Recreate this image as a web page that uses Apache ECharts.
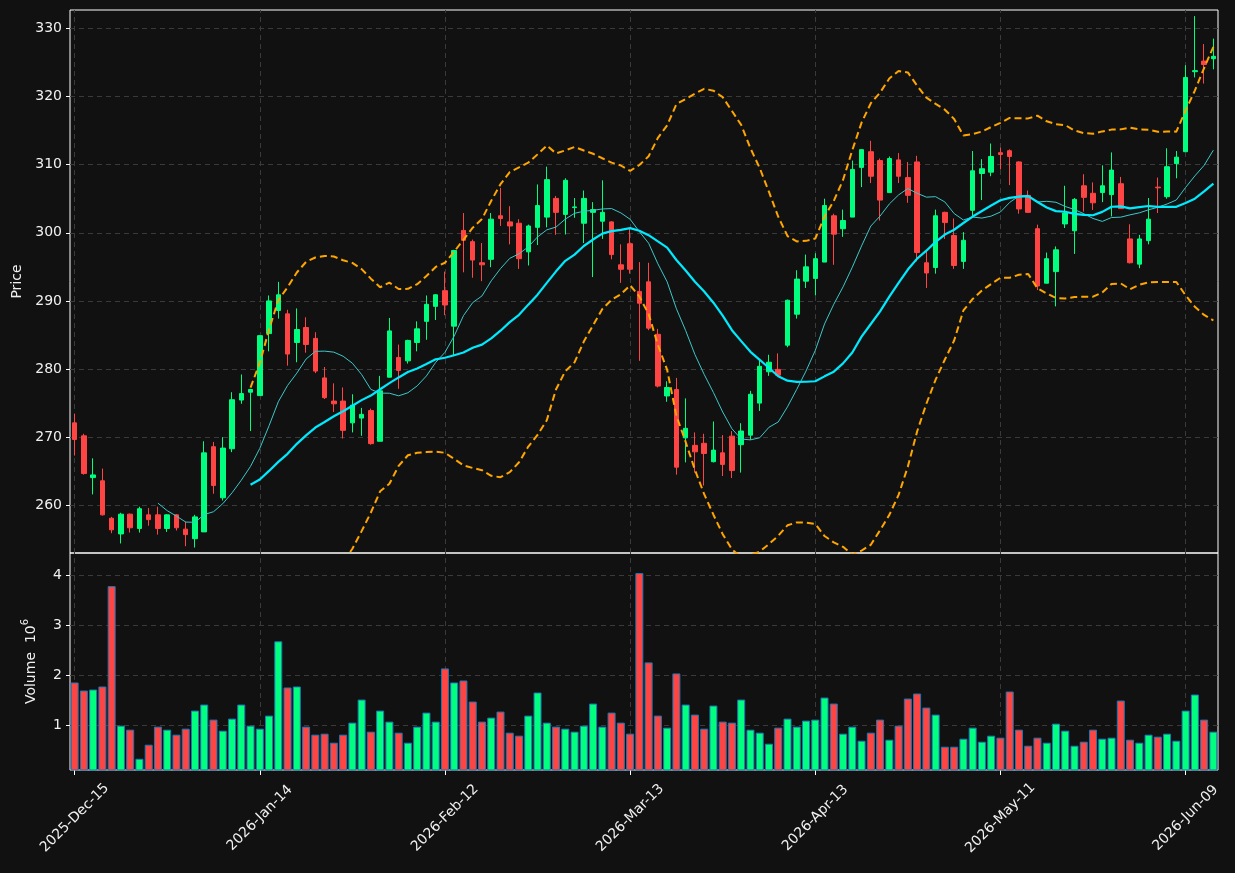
<!DOCTYPE html>
<html>
<head>
<meta charset="utf-8">
<script src="https://cdn.jsdelivr.net/npm/echarts@6.0.0/dist/echarts.min.js"></script>
<style>
  html, body { margin: 0; padding: 0; background: #111111; }
  #main { width: 1235px; height: 873px; }
</style>
</head>
<body>
<div id="main"></div>
<script>
// trading days (categories)
var dates = [
  '2025-12-15','2025-12-16','2025-12-17','2025-12-18','2025-12-19','2025-12-22','2025-12-23','2025-12-24','2025-12-26','2025-12-29','2025-12-30','2025-12-31',
  '2026-01-02','2026-01-05','2026-01-06','2026-01-07','2026-01-08','2026-01-09','2026-01-12','2026-01-13','2026-01-14','2026-01-15','2026-01-16',
  '2026-01-20','2026-01-21','2026-01-22','2026-01-23','2026-01-26','2026-01-27','2026-01-28','2026-01-29','2026-01-30',
  '2026-02-02','2026-02-03','2026-02-04','2026-02-05','2026-02-06','2026-02-09','2026-02-10','2026-02-11','2026-02-12','2026-02-13',
  '2026-02-17','2026-02-18','2026-02-19','2026-02-20','2026-02-23','2026-02-24','2026-02-25','2026-02-26','2026-02-27',
  '2026-03-02','2026-03-03','2026-03-04','2026-03-05','2026-03-06','2026-03-09','2026-03-10','2026-03-11','2026-03-12','2026-03-13',
  '2026-03-16','2026-03-17','2026-03-18','2026-03-19','2026-03-20','2026-03-23','2026-03-24','2026-03-25','2026-03-26','2026-03-27','2026-03-30','2026-03-31',
  '2026-04-01','2026-04-02','2026-04-06','2026-04-07','2026-04-08','2026-04-09','2026-04-10','2026-04-13','2026-04-14','2026-04-15','2026-04-16','2026-04-17',
  '2026-04-20','2026-04-21','2026-04-22','2026-04-23','2026-04-24','2026-04-27','2026-04-28','2026-04-29','2026-04-30',
  '2026-05-01','2026-05-04','2026-05-05','2026-05-06','2026-05-07','2026-05-08','2026-05-11','2026-05-12','2026-05-13','2026-05-14','2026-05-15',
  '2026-05-18','2026-05-19','2026-05-20','2026-05-21','2026-05-22','2026-05-26','2026-05-27','2026-05-28','2026-05-29',
  '2026-06-01','2026-06-02','2026-06-03','2026-06-04','2026-06-05','2026-06-08','2026-06-09','2026-06-10','2026-06-11','2026-06-12'
];

var opens = [
  272.1, 270.2, 264.07, 263.6, 258.1, 255.8, 258.7, 256.6, 258.6, 258.6,
  256.6, 258.6, 256.5, 255.1, 256.1, 268.6, 261.1, 268.3, 275.45, 276.6,
  276.1, 285.2, 288.6, 288.1, 283.9, 286.1, 284.5, 278.7, 275.3, 275.3,
  272.1, 272.8, 273.9, 269.4, 278.8, 281.7, 281.2, 283.9, 287.0, 289.2,
  291.5, 286.3, 300.35, 298.7, 295.6, 296.1, 302.5, 301.6, 301.4, 297.2,
  300.8, 302.3, 305.05, 302.7, 303.7, 301.4, 303.0, 301.7, 301.6, 295.3,
  298.4, 291.4, 292.8, 285.1, 276.05, 277.0, 269.9, 268.8, 269.1, 266.4,
  267.7, 270.15, 268.9, 270.3, 275.0, 279.6, 279.95, 283.5, 288.05, 292.9,
  293.3, 295.7, 302.5, 300.6, 302.3, 309.6, 311.9, 310.6, 305.9, 310.7,
  308.1, 310.4, 295.6, 294.9, 303.0, 299.6, 295.8, 303.3, 308.7, 308.9,
  311.75, 312.05, 310.4, 305.5, 300.6, 292.6, 294.3, 301.3, 300.3, 306.9,
  305.8, 305.9, 305.6, 307.2, 299.1, 295.4, 298.85, 306.7, 305.3, 310.15,
  311.9, 323.65, 325.2, 325.55
];
var highs = [
  273.4, 270.5, 266.9, 265.4, 258.3, 258.9, 258.8, 259.8, 259.6, 259.8,
  258.7, 258.7, 257.6, 258.6, 269.4, 269.3, 270.0, 276.6, 279.2, 277.1,
  285.0, 290.8, 292.8, 288.7, 288.9, 287.6, 285.4, 280.3, 277.9, 277.3,
  276.3, 274.3, 274.2, 279.0, 287.5, 283.6, 284.3, 287.0, 290.8, 291.0,
  294.3, 297.5, 302.9, 299.0, 298.5, 302.9, 306.6, 303.9, 302.0, 301.2,
  307.1, 309.7, 305.4, 308.0, 305.1, 306.2, 304.5, 307.7, 301.7, 298.3,
  300.7, 295.7, 295.6, 285.9, 278.2, 278.7, 275.7, 270.7, 270.5, 272.3,
  270.3, 270.9, 272.05, 276.8, 281.4, 282.1, 282.3, 290.2, 294.5, 296.8,
  297.0, 305.0, 302.8, 303.4, 310.6, 312.3, 313.5, 310.9, 311.2, 311.7,
  310.4, 311.3, 297.3, 303.4, 303.1, 302.1, 300.1, 312.0, 310.8, 313.1,
  312.5, 312.25, 310.5, 306.2, 301.2, 297.1, 298.0, 306.9, 305.1, 308.6,
  307.4, 309.9, 311.8, 308.2, 301.25, 299.7, 305.1, 308.1, 312.4, 312.0,
  324.6, 331.8, 327.7, 328.5
];
var lows = [
  267.3, 264.5, 261.6, 258.5, 255.9, 254.4, 256.0, 256.0, 257.0, 255.7,
  256.1, 256.3, 254.0, 253.8, 256.1, 261.7, 260.7, 267.8, 274.9, 270.9,
  276.1, 282.6, 287.4, 280.5, 281.0, 282.4, 279.4, 275.6, 273.7, 269.8,
  270.7, 270.2, 268.9, 269.4, 278.8, 277.1, 280.8, 282.6, 284.3, 287.2,
  287.9, 281.9, 294.2, 293.4, 292.9, 294.95, 301.0, 298.3, 294.7, 295.2,
  298.2, 300.8, 299.7, 299.75, 302.2, 298.5, 293.5, 299.1, 296.1, 292.65,
  294.0, 281.2, 285.7, 277.3, 275.2, 264.5, 266.3, 264.8, 262.9, 266.3,
  264.3, 264.0, 264.8, 269.6, 273.85, 279.0, 279.0, 283.2, 287.4, 291.9,
  290.8, 295.7, 295.3, 299.4, 302.3, 306.7, 307.3, 301.8, 305.9, 307.3,
  304.4, 295.8, 291.9, 294.0, 299.1, 294.7, 294.7, 302.4, 304.8, 308.3,
  309.3, 307.0, 302.8, 302.9, 291.6, 292.6, 289.2, 300.7, 296.9, 303.1,
  303.35, 304.5, 302.4, 303.5, 295.5, 294.8, 298.3, 302.9, 305.0, 308.0,
  311.9, 322.8, 321.9, 324.0
];
var closes = [
  269.66, 264.66, 264.46, 258.6, 256.4, 258.7, 256.7, 259.5, 257.9, 256.6,
  258.6, 256.7, 255.7, 258.3, 267.7, 262.9, 268.4, 275.5, 276.4, 277.0,
  284.9, 290.0, 290.9, 282.2, 285.8, 283.6, 279.7, 275.8, 274.9, 271.0,
  274.7, 273.35, 269.05, 276.8, 285.6, 279.8, 284.2, 285.9, 289.5, 290.9,
  289.4, 297.4, 298.9, 296.0, 295.3, 302.0, 302.1, 301.0, 296.2, 301.0,
  304.0, 307.8, 303.0, 307.7, 303.8, 305.05, 303.4, 303.0, 296.8, 294.65,
  294.65, 289.66, 286.0, 277.5, 277.3, 265.6, 271.3, 267.85, 267.6, 268.1,
  266.0, 265.1, 270.9, 276.3, 280.4, 281.0, 279.1, 290.1, 293.2, 295.0,
  296.2, 304.0, 299.8, 301.8, 309.3, 312.2, 308.3, 304.8, 310.9, 308.3,
  305.5, 297.1, 294.1, 302.5, 301.5, 295.2, 298.9, 309.1, 309.4, 311.2,
  311.5, 311.2, 303.5, 303.0, 292.2, 296.2, 297.5, 302.9, 304.9, 305.2,
  304.4, 306.9, 309.2, 303.55, 295.6, 299.1, 302.0, 306.6, 309.7, 311.1,
  322.8, 323.8, 324.7, 325.9
];
// volume, in 10^6
var volumes = [
  1.86, 1.70, 1.72, 1.78, 3.78, 1.00, 0.92, 0.34, 0.62, 0.98,
  0.92, 0.82, 0.94, 1.30, 1.42, 1.12, 0.90, 1.14, 1.42, 1.00,
  0.94, 1.20, 2.68, 1.76, 1.78, 0.98, 0.82, 0.84, 0.66, 0.82,
  1.06, 1.52, 0.88, 1.30, 1.08, 0.86, 0.66, 0.98, 1.26, 1.08,
  2.14, 1.86, 1.90, 1.48, 1.08, 1.16, 1.28, 0.86, 0.80, 1.20,
  1.66, 1.06, 0.98, 0.94, 0.88, 1.00, 1.44, 0.98, 1.26, 1.06,
  0.84, 4.04, 2.26, 1.20, 0.96, 2.04, 1.42, 1.22, 0.94, 1.40,
  1.08, 1.06, 1.52, 0.92, 0.86, 0.64, 0.96, 1.14, 0.98, 1.10,
  1.12, 1.56, 1.44, 0.84, 0.98, 0.70, 0.86, 1.12, 0.72, 1.00,
  1.54, 1.64, 1.36, 1.22, 0.58, 0.58, 0.74, 0.96, 0.68, 0.80,
  0.76, 1.68, 0.92, 0.60, 0.76, 0.66, 1.04, 0.90, 0.60, 0.68,
  0.92, 0.74, 0.76, 1.50, 0.72, 0.66, 0.82, 0.78, 0.84, 0.70,
  1.30, 1.62, 1.12, 0.88
];
var tickIdx = [0, 20, 40, 60, 80, 100, 120];

var upColor = '#00ff7f';
var downColor = '#ff4444';
var gridColor = '#3a3a3a';
var textColor = '#f0f0f0';
var monthNames = ['Jan','Feb','Mar','Apr','May','Jun','Jul','Aug','Sep','Oct','Nov','Dec'];

// 移动平均
function calcMA(arr, n) {
  var out = [];
  for (var i = 0; i < arr.length; i++) {
    if (i < n - 1) { out.push('-'); continue; }
    var s = 0;
    for (var j = i - n + 1; j <= i; j++) s += arr[j];
    out.push(+(s / n).toFixed(3));
  }
  return out;
}
// 布林带 (sample std)
function calcBoll(arr, n, k) {
  var up = [], dn = [];
  for (var i = 0; i < arr.length; i++) {
    if (i < n - 1) { up.push('-'); dn.push('-'); continue; }
    var s = 0, j;
    for (j = i - n + 1; j <= i; j++) s += arr[j];
    var m = s / n, v = 0;
    for (j = i - n + 1; j <= i; j++) v += (arr[j] - m) * (arr[j] - m);
    var sd = Math.sqrt(v / (n - 1));
    up.push(+(m + k * sd).toFixed(3));
    dn.push(+(m - k * sd).toFixed(3));
  }
  return [up, dn];
}

var ma10 = calcMA(closes, 10);
var ma20 = calcMA(closes, 20);
var boll = calcBoll(closes, 20, 2);

var candleData = [], volData = [];
for (var i = 0; i < dates.length; i++) {
  candleData.push([opens[i], closes[i], lows[i], highs[i]]);
  volData.push({
    value: volumes[i],
    itemStyle: { color: closes[i] >= opens[i] ? upColor : downColor }
  });
}

function fmtDate(d) {
  var p = d.split('-');
  return p[0] + '-' + monthNames[parseInt(p[1], 10) - 1] + '-' + p[2];
}
// 竖向网格线, 放在柱子下面
function vLines() {
  return {
    z: 1, symbol: 'none', silent: true, animation: false,
    label: { show: false },
    lineStyle: { color: gridColor, type: [5, 4], width: 1 },
    data: tickIdx.map(function (t) { return { xAxis: dates[t] }; })
  };
}
function isTick(idx) { return idx % 20 === 0; }

var myChart = echarts.init(document.getElementById('main'));
var option = {
  backgroundColor: '#111111',
  animation: false,
  textStyle: { fontFamily: 'DejaVu Sans' },
  grid: [
    { left: 70, top: 10, width: 1148, height: 543, show: true, borderColor: '#ffffff', borderWidth: 1, backgroundColor: 'transparent' },
    { left: 70, top: 553, width: 1148, height: 217, show: true, borderColor: '#ffffff', borderWidth: 1, backgroundColor: 'transparent' }
  ],
  xAxis: [
    {
      type: 'category', gridIndex: 0, data: dates, boundaryGap: true,
      axisLine: { show: false }, axisTick: { show: false }, axisLabel: { show: false }, splitLine: { show: false }
    },
    {
      type: 'category', gridIndex: 1, data: dates, boundaryGap: true,
      axisLine: { show: false },
      axisTick: { show: true, interval: isTick, alignWithLabel: true, length: 5, lineStyle: { color: '#ffffff' } },
      axisLabel: {
        interval: isTick, rotate: 45, align: 'center', verticalAlign: 'middle', margin: 48,
        color: textColor, fontSize: 14, fontFamily: 'DejaVu Sans',
        formatter: function (v) { return fmtDate(v); }
      },
      splitLine: { show: false }
    }
  ],
  yAxis: [
    {
      type: 'value', gridIndex: 0, min: 253.0, max: 332.7, splitNumber: 8,
      name: 'Price', nameLocation: 'middle', nameGap: 45,
      nameTextStyle: { color: textColor, fontSize: 14, fontFamily: 'DejaVu Sans' },
      axisLine: { show: false },
      axisTick: { show: true, length: 4, lineStyle: { color: '#ffffff' } },
      axisLabel: {
        color: textColor, fontSize: 14, margin: 8, fontFamily: 'DejaVu Sans',
        showMinLabel: false, showMaxLabel: false,
        formatter: function (v) { return Math.abs(v / 10 - Math.round(v / 10)) < 1e-6 ? String(Math.round(v)) : ''; }
      },
      splitLine: { show: true, showMinLine: false, showMaxLine: false, lineStyle: { color: gridColor, type: [5, 4], width: 1 } }
    },
    {
      type: 'value', gridIndex: 1, min: 0.116, max: 4.44, splitNumber: 4,
      name: 'Volume  10{sup|6}', nameLocation: 'middle', nameGap: 24,
      nameTextStyle: {
        color: textColor, fontSize: 14, lineHeight: 22, fontFamily: 'DejaVu Sans',
        rich: { sup: { color: textColor, fontSize: 10, lineHeight: 22, verticalAlign: 'top', fontFamily: 'DejaVu Sans' } }
      },
      axisLine: { show: false },
      axisTick: { show: true, length: 4, lineStyle: { color: '#ffffff' } },
      axisLabel: {
        color: textColor, fontSize: 14, margin: 8, fontFamily: 'DejaVu Sans',
        showMinLabel: false, showMaxLabel: false,
        formatter: function (v) { return Math.abs(v - Math.round(v)) < 1e-6 ? String(Math.round(v)) : ''; }
      },
      splitLine: { show: true, showMinLine: false, showMaxLine: false, lineStyle: { color: gridColor, type: [5, 4], width: 1 } }
    }
  ],
  series: [
    {
      name: 'grid0', type: 'line', xAxisIndex: 0, yAxisIndex: 0, z: 1,
      data: [], showSymbol: false, markLine: vLines()
    },
    {
      name: 'OHLC', type: 'candlestick', xAxisIndex: 0, yAxisIndex: 0, z: 3,
      data: candleData, barWidth: 5,
      itemStyle: { color: upColor, color0: downColor, borderColor: upColor, borderColor0: downColor, borderWidth: 1 }
    },
    {
      name: 'MA10', type: 'line', xAxisIndex: 0, yAxisIndex: 0, z: 4,
      data: ma10, symbol: 'none', lineStyle: { color: '#3cc8c8', width: 1 }
    },
    {
      name: 'MA20', type: 'line', xAxisIndex: 0, yAxisIndex: 0, z: 4,
      data: ma20, symbol: 'none', lineStyle: { color: '#00eaff', width: 2.2 }
    },
    {
      name: 'BB upper', type: 'line', xAxisIndex: 0, yAxisIndex: 0, z: 4,
      data: boll[0], symbol: 'none', lineStyle: { color: '#ffa500', width: 2, type: [7, 4] }
    },
    {
      name: 'BB lower', type: 'line', xAxisIndex: 0, yAxisIndex: 0, z: 4,
      data: boll[1], symbol: 'none', lineStyle: { color: '#ffa500', width: 2, type: [7, 4] }
    },
    {
      name: 'grid1', type: 'line', xAxisIndex: 1, yAxisIndex: 1, z: 1,
      data: [], showSymbol: false, markLine: vLines()
    },
    {
      name: 'Volume', type: 'bar', xAxisIndex: 1, yAxisIndex: 1, z: 3,
      data: volData, barWidth: 8,
      itemStyle: { borderColor: '#1f77b4', borderWidth: 1 }
    }
  ]
};
myChart.setOption(option);
</script>
</body>
</html>
